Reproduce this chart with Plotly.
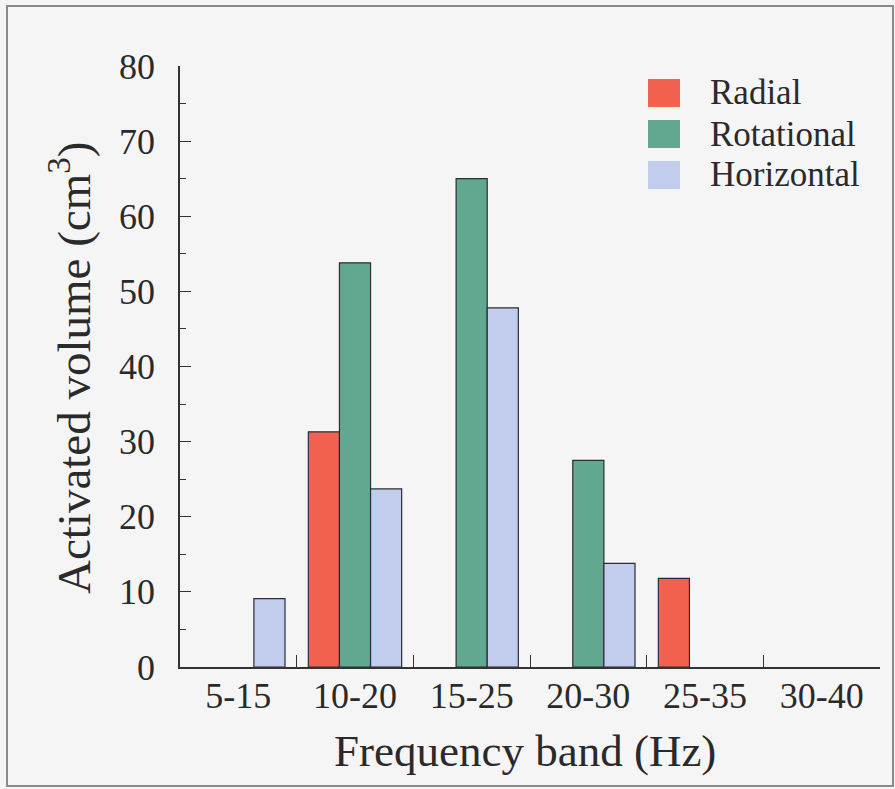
import plotly.graph_objects as go

# Frequency bands and activated volume per excitation direction (cm^3)
bands = ["5-15", "10-20", "15-25", "20-30", "25-35", "30-40"]
radial = [0, 31.3, 0, 0, 11.8, 0]
rotational = [0, 53.8, 65.0, 27.5, 0, 0]
horizontal = [9.1, 23.7, 47.8, 13.8, 0, 0]

series_names = ["Radial", "Rotational", "Horizontal"]
series_colors = ["#f2614e", "#62a790", "#c2cdee"]
y_ticks = [0, 10, 20, 30, 40, 50, 60, 70, 80]

FONT = "Liberation Serif, Times New Roman, serif"
BG = "#f6f5f6"

fig = go.Figure()
for name, vals, col in zip(series_names, [radial, rotational, horizontal], series_colors):
    # empty bands get no outline so nothing is drawn on the baseline
    widths = [1.2 if v > 0 else 0 for v in vals]
    fig.add_trace(go.Bar(
        x=bands, y=vals, name=name,
        marker=dict(color=col, line=dict(color="#2b2b3a", width=widths)),
        showlegend=False,
    ))

W, H = 895, 789
L, R, T, B = 180, 15, 66, 122
pw, ph = W - L - R, H - T - B


def px_x(x):
    return (x - L) / pw


def px_y(y):
    return (H - B - y) / ph


fig.update_layout(
    width=W, height=H,
    margin=dict(l=L, r=R, t=T, b=B),
    paper_bgcolor=BG, plot_bgcolor=BG,
    barmode="group", bargap=0.2, bargroupgap=0,
    font=dict(family=FONT, color="#2a2a2a", size=36),
    xaxis=dict(
        range=[-0.5, 5.5], tickson="boundaries", ticks="inside", ticklen=12,
        tickwidth=1.3, tickcolor="#333", showline=True, linecolor="#333",
        linewidth=1.6, showgrid=False, zeroline=False,
        tickfont=dict(size=36, family=FONT), ticklabelstandoff=-4,
    ),
    yaxis=dict(
        range=[0, 80], tickvals=y_ticks, ticks="inside", ticklen=11,
        tickwidth=1.3, tickcolor="#333", showline=True, linecolor="#333",
        linewidth=1.6, showgrid=False, zeroline=False,
        minor=dict(dtick=5, ticks="inside", ticklen=6, tickwidth=1.2, tickcolor="#333"),
        tickfont=dict(size=36, family=FONT), ticklabelstandoff=16,
    ),
)

# axis titles
fig.add_annotation(
    text="Activated volume (cm<sup>3</sup>)", xref="paper", yref="paper",
    x=px_x(70), y=px_y(368), textangle=-90, showarrow=False,
    xanchor="center", yanchor="middle", font=dict(size=47, family=FONT),
)
fig.add_annotation(
    text="Frequency band (Hz)", xref="paper", yref="paper",
    x=px_x(525), y=px_y(751), showarrow=False,
    xanchor="center", yanchor="middle", font=dict(size=45, family=FONT),
)

# legend: colour swatches with labels
row_tops = [79, 120, 161]
for name, col, top in zip(series_names, series_colors, row_tops):
    fig.add_shape(
        type="rect", xref="paper", yref="paper",
        x0=px_x(648), x1=px_x(680), y0=px_y(top), y1=px_y(top + 28),
        fillcolor=col, line=dict(width=0),
    )
    fig.add_annotation(
        text=name, xref="paper", yref="paper",
        x=px_x(708), y=px_y(top + 14), showarrow=False,
        xanchor="left", yanchor="middle", font=dict(size=35, family=FONT),
    )

# outer frame
fig.add_shape(
    type="rect", xref="paper", yref="paper",
    x0=px_x(7), x1=px_x(893), y0=px_y(6), y1=px_y(786),
    line=dict(color="#8a8a8a", width=2), fillcolor="rgba(0,0,0,0)",
)

fig.write_html("out.html")
